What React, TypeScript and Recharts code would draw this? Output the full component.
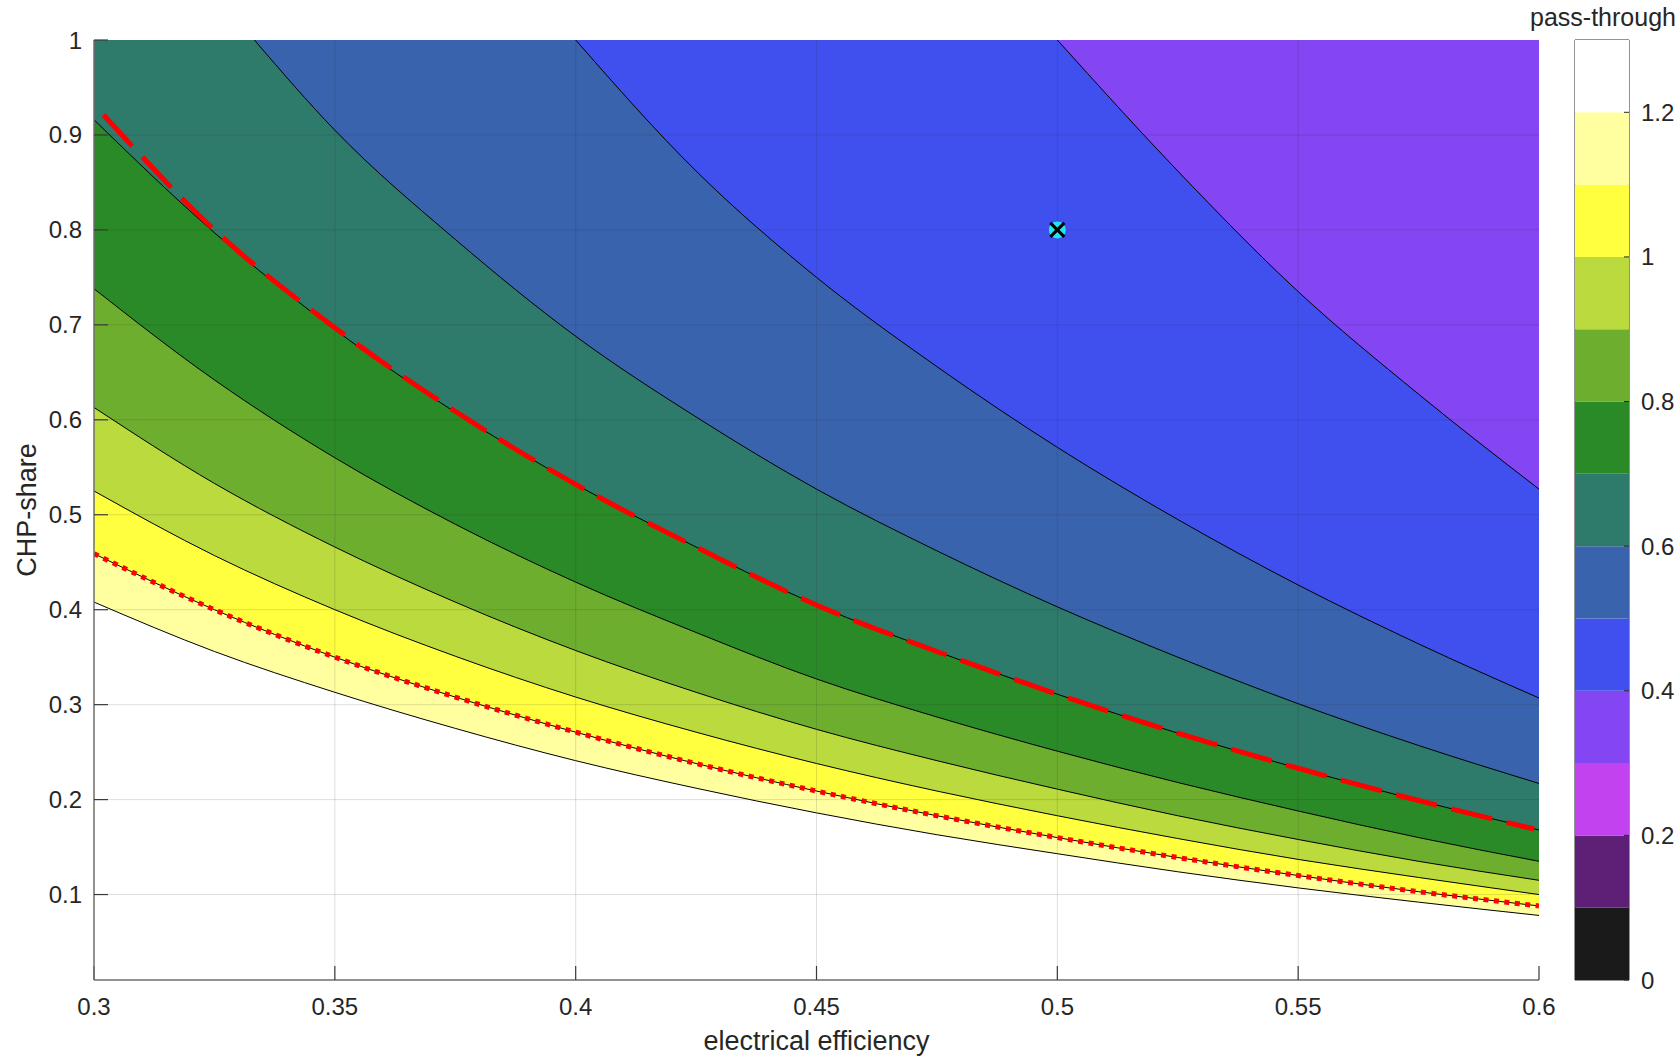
import React from "react";
import {
  ComposedChart,
  BarChart,
  Area,
  Line,
  Bar,
  Scatter,
  XAxis,
  YAxis,
  ReferenceLine,
  ReferenceArea,
} from "recharts";

// electrical efficiency grid used when reading the contour lines
const effGrid = [0.3, 0.325, 0.35, 0.375, 0.4, 0.425, 0.45, 0.475, 0.5, 0.525, 0.55, 0.575, 0.6];

// CHP-share along each pass-through contour line
const share120 = [0.408, 0.356, 0.313, 0.275, 0.241, 0.212, 0.186, 0.163, 0.143, 0.124, 0.107, 0.092, 0.078];
const share110 = [0.459, 0.4, 0.35, 0.308, 0.271, 0.238, 0.209, 0.183, 0.16, 0.139, 0.12, 0.103, 0.088];
const share100 = [0.525, 0.457, 0.4, 0.351, 0.308, 0.271, 0.238, 0.209, 0.183, 0.159, 0.137, 0.118, 0.1];
const share090 = [0.613, 0.533, 0.466, 0.408, 0.357, 0.313, 0.274, 0.241, 0.211, 0.183, 0.158, 0.135, 0.115];
const share080 = [0.738, 0.642, 0.56, 0.49, 0.429, 0.376, 0.327, 0.287, 0.251, 0.218, 0.188, 0.16, 0.135];
const share070 = [0.916, 0.797, 0.695, 0.608, 0.532, 0.466, 0.405, 0.356, 0.311, 0.27, 0.233, 0.199, 0.168];

// these three leave the plot through the top edge
const eff060 = [0.3333, 0.35, 0.375, 0.4, 0.425, 0.45, 0.475, 0.5, 0.525, 0.55, 0.575, 0.6];
const share060 = [1, 0.905, 0.79, 0.688, 0.603, 0.527, 0.462, 0.403, 0.35, 0.301, 0.257, 0.217];
const eff050 = [0.4, 0.425, 0.45, 0.475, 0.5, 0.525, 0.55, 0.575, 0.6];
const share050 = [1, 0.862, 0.75, 0.656, 0.571, 0.495, 0.426, 0.364, 0.307];
const eff040 = [0.5, 0.525, 0.55, 0.575, 0.6];
const share040 = [1, 0.862, 0.735, 0.627, 0.527];

// red dashed and red dotted lines
const dashedEff = [0.302, 0.325, 0.35, 0.375, 0.4, 0.425, 0.45, 0.475, 0.5, 0.525, 0.55, 0.575, 0.599];
const dashedShare = [0.921, 0.8, 0.697, 0.609, 0.532, 0.466, 0.405, 0.356, 0.311, 0.27, 0.233, 0.199, 0.169];
const dottedShare = [0.459, 0.4, 0.35, 0.308, 0.271, 0.238, 0.209, 0.183, 0.16, 0.139, 0.12, 0.103, 0.088];

// marked operating point
const pointEff = [0.5];
const pointShare = [0.8];

const xTicks = [0.3, 0.35, 0.4, 0.45, 0.5, 0.55, 0.6];
const yTicks = [0.1, 0.2, 0.3, 0.4, 0.5, 0.6, 0.7, 0.8, 0.9, 1];
const xGrid = [0.35, 0.4, 0.45, 0.5, 0.55];
const yGrid = [0.1, 0.2, 0.3, 0.4, 0.5, 0.6, 0.7, 0.8, 0.9];

// colour bar: band edges and the colour of each band (bottom to top)
const bandEdges = [0, 0.1, 0.2, 0.3, 0.4, 0.5, 0.6, 0.7, 0.8, 0.9, 1, 1.1, 1.2, 1.3];
const bandColors = [
  "#1a1a1a", "#5e1f77", "#c242f0", "#8346f2", "#4050ef", "#3a63ae", "#2e7a6b",
  "#2a8a27", "#6dae2f", "#bbda3e", "#ffff40", "#ffffa0", "#ffffff",
];
const cbTicks = [0, 0.2, 0.4, 0.6, 0.8, 1, 1.2];

const toPoints = (xs: number[], ys: number[]) => xs.map((x, i) => ({ eff: x, share: ys[i] }));

// drawn from the highest level down; each fills the area above its line
const contours = [
  { level: 1.2, pts: toPoints(effGrid, share120) },
  { level: 1.1, pts: toPoints(effGrid, share110) },
  { level: 1.0, pts: toPoints(effGrid, share100) },
  { level: 0.9, pts: toPoints(effGrid, share090) },
  { level: 0.8, pts: toPoints(effGrid, share080) },
  { level: 0.7, pts: toPoints(effGrid, share070) },
  { level: 0.6, pts: toPoints(eff060, share060) },
  { level: 0.5, pts: toPoints(eff050, share050) },
  { level: 0.4, pts: toPoints(eff040, share040) },
];

const TEXT = "#262626";
const AXIS = "#6e6e6e";
const TICK = { stroke: "#3a3a3a", strokeWidth: 1.2 };

const NoLabel = () => <g />;

function OpPoint(props: any) {
  const { cx, cy } = props;
  return (
    <g>
      <circle cx={cx} cy={cy} r={8.5} fill="#1fe5f2" />
      <line x1={cx - 7} y1={cy - 7} x2={cx + 7} y2={cy + 7} stroke="#000" strokeWidth={3} />
      <line x1={cx - 7} y1={cy + 7} x2={cx + 7} y2={cy - 7} stroke="#000" strokeWidth={3} />
    </g>
  );
}

function ContourPlot() {
  return (
    <ComposedChart width={1560} height={1058} margin={{ top: 40, right: 21, bottom: 38, left: 0 }}>
      <XAxis
        dataKey="eff"
        type="number"
        domain={[0.3, 0.6]}
        ticks={xTicks}
        allowDataOverflow
        height={40}
        tickSize={-14}
        tickMargin={32}
        stroke={AXIS}
        axisLine={{ strokeWidth: 1.5 }}
        tickLine={TICK}
        tick={{ fill: TEXT, fontSize: 24 }}
        label={{ value: "electrical efficiency", position: "bottom", offset: 11, fill: TEXT, fontSize: 27 }}
      />
      <XAxis
        xAxisId="top"
        orientation="top"
        type="number"
        domain={[0.3, 0.6]}
        ticks={xTicks}
        allowDataOverflow
        height={0}
        tickSize={-14}
        tick={<NoLabel />}
        tickLine={TICK}
        stroke={AXIS}
        axisLine={{ strokeWidth: 1.5 }}
      />
      <YAxis
        dataKey="share"
        type="number"
        domain={[0.01, 1]}
        ticks={yTicks}
        allowDataOverflow
        width={94}
        tickSize={-14}
        tickMargin={26}
        stroke={AXIS}
        axisLine={{ strokeWidth: 1.5 }}
        tickLine={TICK}
        tick={{ fill: TEXT, fontSize: 24 }}
        label={{
          value: "CHP-share",
          angle: -90,
          position: "insideLeft",
          offset: 26,
          fill: TEXT,
          fontSize: 27,
          style: { textAnchor: "middle" },
        }}
      />
      <YAxis
        yAxisId="right"
        orientation="right"
        type="number"
        domain={[0.01, 1]}
        ticks={yTicks}
        allowDataOverflow
        width={0}
        tickSize={-14}
        tick={<NoLabel />}
        tickLine={TICK}
        stroke={AXIS}
        axisLine={{ strokeWidth: 1.5 }}
      />

      {contours.map((c) => (
        <Area
          key={c.level}
          data={c.pts}
          dataKey="share"
          type="monotone"
          baseValue={1}
          fill={bandColors[Math.round(c.level * 10) - 1]}
          fillOpacity={1}
          stroke="#000"
          strokeWidth={1}
          dot={false}
          activeDot={false}
          isAnimationActive={false}
        />
      ))}

      {xGrid.map((v) => (
        <ReferenceLine key={"gx" + v} x={v} stroke={TEXT} strokeOpacity={0.15} />
      ))}
      {yGrid.map((v) => (
        <ReferenceLine key={"gy" + v} y={v} stroke={TEXT} strokeOpacity={0.15} />
      ))}

      <Line
        data={toPoints(dashedEff, dashedShare)}
        dataKey="share"
        type="monotone"
        stroke="#ff0000"
        strokeWidth={5}
        strokeDasharray="42 15"
        dot={false}
        activeDot={false}
        isAnimationActive={false}
      />
      <Line
        data={toPoints(effGrid, dottedShare)}
        dataKey="share"
        type="monotone"
        stroke="#ff0000"
        strokeWidth={5}
        strokeDasharray="5 5.5"
        dot={false}
        activeDot={false}
        isAnimationActive={false}
      />
      <Scatter data={toPoints(pointEff, pointShare)} dataKey="share" shape={OpPoint} isAnimationActive={false} />
    </ComposedChart>
  );
}

function ColorBar() {
  const row: Record<string, number | string> = { name: "cb" };
  bandColors.forEach((_, i) => {
    row["b" + i] = bandEdges[i + 1] - bandEdges[i];
  });
  return (
    <BarChart
      width={178}
      height={1058}
      data={[row]}
      margin={{ top: 40, right: 0, bottom: 78, left: 75 }}
      barCategoryGap={0}
      barGap={0}
    >
      <XAxis dataKey="name" hide />
      <YAxis
        orientation="right"
        type="number"
        domain={[0, 1.3]}
        ticks={cbTicks}
        allowDataOverflow
        width={49}
        tickSize={-5}
        tickMargin={17}
        stroke={TEXT}
        axisLine={false}
        tickLine={{ stroke: TEXT }}
        tick={{ fill: TEXT, fontSize: 24 }}
      />
      {bandColors.map((c, i) => (
        <Bar key={i} dataKey={"b" + i} stackId="cb" fill={c} isAnimationActive={false} />
      ))}
      <ReferenceArea y1={0} y2={1.3} fill="none" stroke={TEXT} strokeWidth={1} />
    </BarChart>
  );
}

export default function App() {
  return (
    <div
      style={{
        position: "absolute",
        left: 0,
        top: 0,
        width: 1678,
        height: 1058,
        background: "#fff",
        fontFamily: "'Liberation Sans', Arial, sans-serif",
      }}
    >
      <div style={{ position: "absolute", left: 0, top: 0 }}>
        <ContourPlot />
      </div>
      <div style={{ position: "absolute", left: 1500, top: 0 }}>
        <ColorBar />
      </div>
      <div
        style={{
          position: "absolute",
          left: 1523,
          top: 4,
          width: 160,
          textAlign: "center",
          fontSize: 25,
          lineHeight: "26px",
          color: TEXT,
        }}
      >
        pass-through
      </div>
    </div>
  );
}
